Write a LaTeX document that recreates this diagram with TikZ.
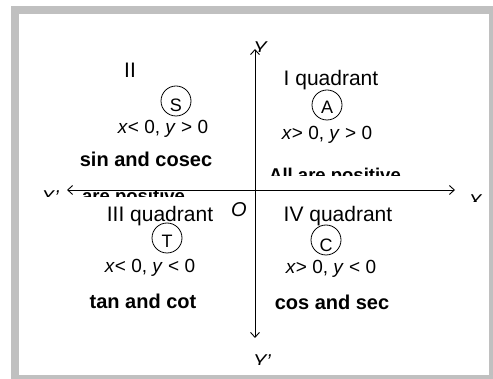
\documentclass[tikz,border=0pt]{standalone}
\usepackage{fontspec}
\setmainfont{Liberation Sans}
\usetikzlibrary{arrows.meta}
\definecolor{cerceveGri}{HTML}{C0C0C0}

\begin{document}
\begin{tikzpicture}[x=1pt,y=-1pt,
  kadran/.style={inner sep=0pt,anchor=base,font=\fontsize{21}{21}\selectfont},
  kosul/.style={inner sep=0pt,anchor=base,font=\fontsize{19}{19}\selectfont},
  oran/.style={inner sep=0pt,anchor=base,font=\fontsize{20}{20}\selectfont\bfseries},
  harf/.style={draw,circle,line width=0.8pt,minimum size=30pt,inner sep=0pt,
               font=\fontsize{18}{18}\selectfont},
  eksenEtiket/.style={inner sep=0pt,anchor=base,font=\fontsize{20}{20}\selectfont\itshape},
  ok/.style={{Straight Barb[length=5pt,width=9pt]}-{Straight Barb[length=5pt,width=9pt]},
             line width=0.9pt}]
\useasboundingbox (0,0) rectangle (493,379);
\fill[white] (0,0) rectangle (493,379);
\fill[cerceveGri] (11,6) rectangle (493,379);
\fill[white] (19,14) rectangle (489,375);

\coordinate (xSol) at (67,190);
\coordinate (xSag) at (455,190);
\coordinate (yUst) at (255,49);
\coordinate (yAlt) at (255,338);
\draw[ok] (xSol) -- (xSag);
\draw[ok] (yAlt) -- (yUst);

\begin{scope}
  \clip (30,186) rectangle (66,197);
  \node[eksenEtiket] (xSolEt) at (50,205) {X’};
\end{scope}
\begin{scope}
  \clip (460,192) rectangle (490,202);
  \node[eksenEtiket] (xSagEt) at (475,209) {X};
\end{scope}
\begin{scope}
  \clip (245,35) rectangle (275,52);
  \node[eksenEtiket] (yUstEt) at (260,56) {Y};
\end{scope}
\begin{scope}
  \clip (240,350) rectangle (285,365);
  \node[eksenEtiket] (yAltEt) at (262,369) {Y’};
\end{scope}
\node[eksenEtiket] (orijin) at (239,217) {O};

\node[kadran] (ikinci) at (130,78) {II};
\node[harf] (S) at (176,101) {\raisebox{-11pt}[0pt][0pt]{S}};
\node[kosul] (ikinciKosul) at (163,134) {\textit{x}< 0, \textit{y} > 0};
\node[oran] (ikinciOran) at (146,167) {sin and cosec};
\begin{scope}
  \clip (75,191) rectangle (200,197);
  \node[oran,anchor=base west,font=\fontsize{18.5}{18.5}\selectfont\bfseries]
    (ikinciArti) at (82,203) {are positive};
\end{scope}

\node[kadran] (birinci) at (331,86) {I quadrant};
\node[harf] (A) at (327,105) {\raisebox{-9pt}[0pt][0pt]{A}};
\node[kosul] (birinciKosul) at (327,140) {\textit{x}> 0, \textit{y} > 0};
\begin{scope}
  \clip (250,150) rectangle (420,176);
  \node[oran,font=\fontsize{18.5}{18.5}\selectfont\bfseries]
    (birinciOran) at (335,182) {All are positive};
\end{scope}

\node[kadran] (ucuncu) at (160,222) {III quadrant};
\node[harf] (T) at (167,238) {\raisebox{-10pt}[0pt][0pt]{T}};
\node[kosul] (ucuncuKosul) at (150,273) {\textit{x}< 0, \textit{y} < 0};
\node[oran] (ucuncuOran) at (143,309) {tan and cot};

\node[kadran] (dorduncu) at (338,222) {IV quadrant};
\node[harf] (C) at (326,240) {\raisebox{-12pt}[0pt][0pt]{C}};
\node[kosul] (dorduncuKosul) at (331,274) {\textit{x}> 0, \textit{y} < 0};
\node[oran] (dorduncuOran) at (332,310) {cos and sec};
\end{tikzpicture}
\end{document}
